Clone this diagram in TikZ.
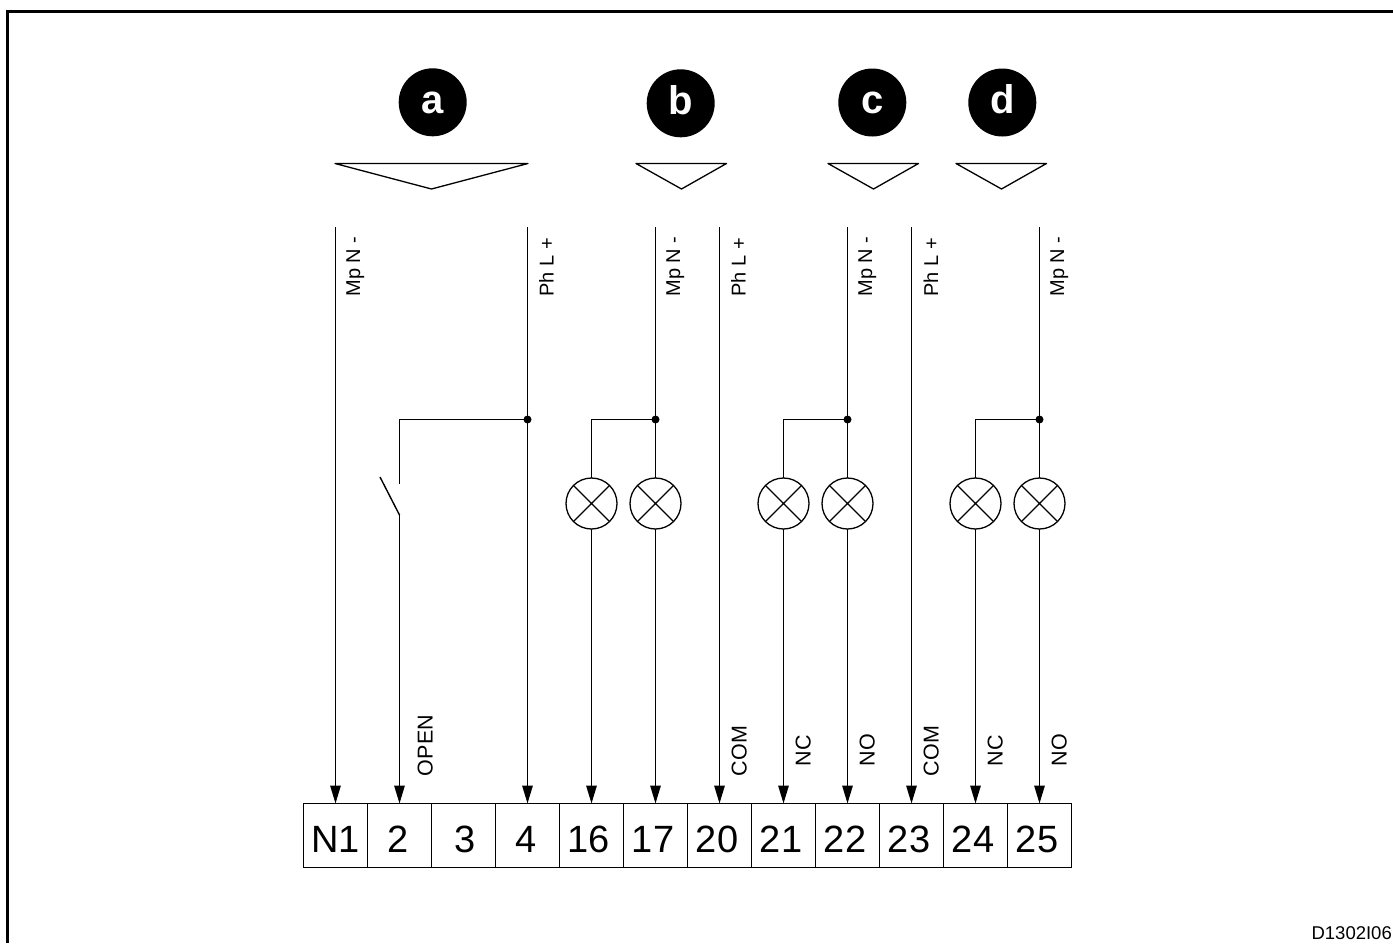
\documentclass[tikz,border=0pt]{standalone}
\usepackage{fontspec}
\setmainfont{Liberation Sans}
\usetikzlibrary{arrows.meta}
\tikzset{
  x=1pt,y=-1pt,
  wire/.style={line width=1.4pt,draw=black},
  feed/.style={wire,-{Triangle[length=18pt,width=10.5pt]},shorten >=0pt},
  terminal/.style={draw=black,line width=1.3pt,minimum width=64pt,minimum height=64pt,inner sep=0pt,outer sep=0pt,
    text height=33pt,text depth=0pt,font=\fontsize{38}{40}\selectfont},
  lamp/.style={circle,draw=black,line width=1.3pt,minimum size=51pt,inner sep=0pt,outer sep=0pt,
    path picture={\draw[line width=1.3pt] (path picture bounding box.north west)--(path picture bounding box.south east)
      (path picture bounding box.north east)--(path picture bounding box.south west);}},
  dotj/.style={circle,fill=black,inner sep=0pt,outer sep=0pt,minimum size=8pt},
  tag/.style={circle,fill=black,text=white,minimum size=68pt,inner sep=0pt,text height=22pt,text depth=0pt,font=\fontsize{40}{42}\selectfont\bfseries},
  vlabel/.style={rotate=90,anchor=base west,inner sep=0pt,outer sep=0pt,font=\fontsize{20}{22}\selectfont},
  vlabelb/.style={rotate=90,anchor=base west,inner sep=0pt,outer sep=0pt,font=\fontsize{21.5}{23}\selectfont},
  marker/.style={line width=1.3pt,draw=black,line join=round}
}
\begin{document}
\begin{tikzpicture}
\useasboundingbox (0,0) rectangle (1393,943);
% frame
\draw[line width=3pt] (7.5,943) -- (7.5,11.5) -- (1393,11.5);
% tags
\node[tag] (ta) at (432.7,102.3) {a};
\node[tag] (tb) at (680.7,103.3) {b};
\node[tag] (tc) at (872.3,102.5) {c};
\node[tag] (td) at (1002.3,102.5) {d};
% markers
\draw[marker] (335,163.5) -- (528,163.5) -- (431.5,189) -- cycle;
\draw[marker] (636,163.5) -- (726.5,163.5) -- (681.5,189) -- cycle;
\draw[marker] (828,163.5) -- (918.5,163.5) -- (873.5,189) -- cycle;
\draw[marker] (956,163.5) -- (1046.5,163.5) -- (1001.5,189) -- cycle;
% terminals
\node[terminal] (n1) at (335.5,835.5) {N1};
\node[terminal] (t2) at (399.5,835.5) {2\kern2pt};
\node[terminal] (t3) at (463.5,835.5) {\kern3pt 3};
\node[terminal] (t4) at (527.5,835.5) {4\kern2pt};
\node[terminal] (t16) at (591.5,835.5) {16\kern5pt};
\node[terminal] (t17) at (655.5,835.5) {17\kern5pt};
\node[terminal] (t20) at (719.5,835.5) {20\kern5pt};
\node[terminal] (t21) at (783.5,835.5) {21\kern5pt};
\node[terminal] (t22) at (847.5,835.5) {22\kern5pt};
\node[terminal] (t23) at (911.5,835.5) {23\kern5pt};
\node[terminal] (t24) at (975.5,835.5) {24\kern5pt};
\node[terminal] (t25) at (1039.5,835.5) {25\kern5pt};
% sources
\coordinate (s1) at (335.5,227);
\coordinate (s4) at (527.5,227);
\coordinate (s17) at (655.5,227);
\coordinate (s20) at (719.5,227);
\coordinate (s22) at (847.5,227);
\coordinate (s23) at (911.5,227);
\coordinate (s25) at (1039.5,227);
% junctions
\node[dotj] (j4) at (527.5,419.5) {};
\node[dotj] (j17) at (655.5,419.5) {};
\node[dotj] (j22) at (847.5,419.5) {};
\node[dotj] (j25) at (1039.5,419.5) {};
% lamps
\node[lamp] (l16) at (591.5,503.5) {};
\node[lamp] (l17) at (655.5,503.5) {};
\node[lamp] (l21) at (783.5,503.5) {};
\node[lamp] (l22) at (847.5,503.5) {};
\node[lamp] (l24) at (975.5,503.5) {};
\node[lamp] (l25) at (1039.5,503.5) {};
% straight feeds
\draw[feed] (s1) -- (n1.north);
\draw[feed] (s4) -- (t4.north);
\draw[feed] (s20) -- (t20.north);
\draw[feed] (s23) -- (t23.north);
% lamp circuits
\draw[wire] (s17) -- (l17.north);
\draw[wire] (s22) -- (l22.north);
\draw[wire] (s25) -- (l25.north);
\draw[wire] (j17) -| (l16.north);
\draw[wire] (j22) -| (l21.north);
\draw[wire] (j25) -| (l24.north);
\draw[feed] (l16.south) -- (t16.north);
\draw[feed] (l17.south) -- (t17.north);
\draw[feed] (l21.south) -- (t21.north);
\draw[feed] (l22.south) -- (t22.north);
\draw[feed] (l24.south) -- (t24.north);
\draw[feed] (l25.south) -- (t25.north);
% switch
\coordinate (swtop) at (399.5,483.5);
\coordinate (swbot) at (399.5,515);
\coordinate (swtip) at (380,477);
\draw[wire] (j4) -| (swtop);
\draw[wire] (swtip) -- (swbot);
\draw[feed] (swbot) -- (t2.north);
% upper labels
\node[vlabel] (la) at (360,296.5) {Mp N -};
\node[vlabel] (lb) at (553.5,296.5) {Ph L +};
\node[vlabel] (lc) at (680,296.5) {Mp N -};
\node[vlabel] (ld) at (745.5,296.5) {Ph L +};
\node[vlabel] (le) at (872,296.5) {Mp N -};
\node[vlabel] (lf) at (938,296.5) {Ph L +};
\node[vlabel] (lg) at (1064,296.5) {Mp N -};
% lower labels
\node[vlabelb] (lo) at (432.5,776) {OPEN};
\node[vlabelb] (lh) at (746.5,776) {COM};
\node[vlabelb] (li) at (810.5,766) {NC};
\node[vlabelb] (lj) at (874.5,766) {NO};
\node[vlabelb] (lk) at (938.5,776) {COM};
\node[vlabelb] (ll) at (1002.5,766) {NC};
\node[vlabelb] (lm) at (1066.5,766) {NO};
% code
\node[anchor=base east,inner sep=0pt,font=\fontsize{18.5}{20}\selectfont] (code) at (1392,939) {D1302I06};
\end{tikzpicture}
\end{document}
